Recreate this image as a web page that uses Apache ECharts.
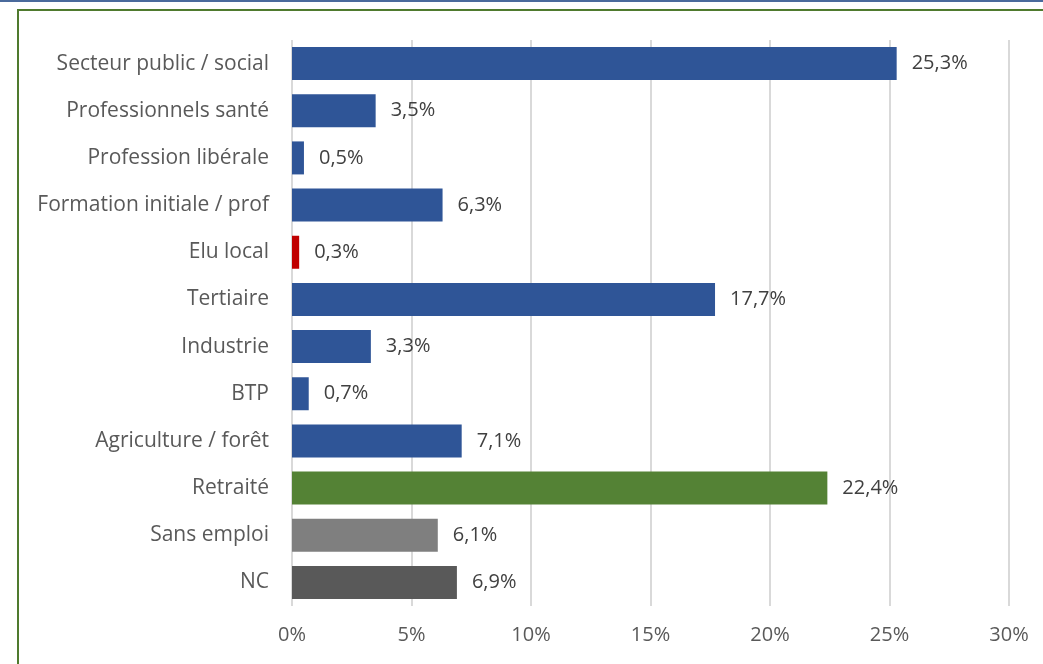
<!DOCTYPE html>
<html>
<head>
<meta charset="utf-8">
<script src="https://cdn.jsdelivr.net/npm/echarts@6/dist/echarts.min.js"></script>
<style>
  html, body { margin: 0; padding: 0; background: #fff; }
  #topline { position: absolute; left: 0; top: 0; width: 1043px; height: 2px; background: #4A6A9C; }
  #frame { position: absolute; left: 17px; top: 9px; width: 1040px; height: 670px; border: 2px solid #4F7A2E; box-sizing: border-box; }
  #chart { position: absolute; left: 0; top: 0; width: 1043px; height: 664px; }
</style>
</head>
<body>
<div id="topline"></div>
<div id="frame"></div>
<div id="chart"></div>
<script>
// catégories socio-professionnelles
const categories = [
  "Secteur public / social", "Professionnels santé", "Profession libérale",
  "Formation initiale / prof", "Elu local", "Tertiaire", "Industrie", "BTP",
  "Agriculture / forêt", "Retraité", "Sans emploi", "NC"
];
const values = [25.3, 3.5, 0.5, 6.3, 0.3, 17.7, 3.3, 0.7, 7.1, 22.4, 6.1, 6.9];
const barColors = [
  "#2F5597", "#2F5597", "#2F5597", "#2F5597", "#C00000", "#2F5597",
  "#2F5597", "#2F5597", "#2F5597", "#548235", "#7F7F7F", "#595959"
];
const xTicks = [0, 5, 10, 15, 20, 25, 30];

const fmt = (v) => String(v).replace(".", ",") + "%";
const textFont = "'Open Sans', sans-serif";

const chart = echarts.init(document.getElementById("chart"));
chart.setOption({
  animation: false,
  grid: { left: 292, right: 34, top: 40, bottom: 58, containLabel: false },
  xAxis: {
    type: "value",
    min: xTicks[0],
    max: xTicks[xTicks.length - 1],
    interval: 5,
    axisLine: { show: false },
    axisTick: { show: false },
    splitLine: { lineStyle: { color: "#D9D9D9", width: 2 } },
    axisLabel: {
      formatter: (v) => v + "%",
      color: "#595959",
      fontSize: 20,
      fontFamily: textFont,
      margin: 19
    }
  },
  yAxis: {
    type: "category",
    inverse: true,
    data: categories,
    axisLine: { show: false },
    axisTick: { show: false },
    axisLabel: {
      color: "#595959",
      fontSize: 21,
      fontFamily: textFont,
      margin: 23
    }
  },
  series: [{
    type: "bar",
    barWidth: 33,
    data: values.map((v, i) => ({ value: v, itemStyle: { color: barColors[i] } })),
    label: {
      show: true,
      position: "right",
      distance: 15,
      formatter: (p) => fmt(p.value),
      color: "#404040",
      fontSize: 20,
      fontFamily: textFont
    }
  }]
});
</script>
</body>
</html>
